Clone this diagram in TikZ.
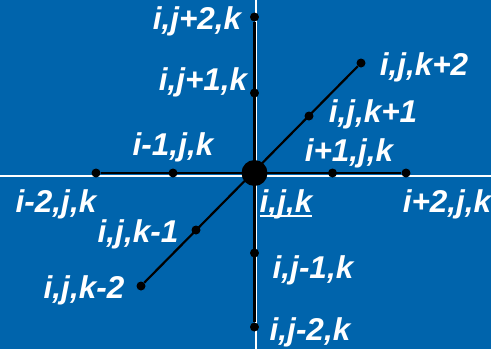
\documentclass[tikz,border=0pt]{standalone}
\usepackage{fontspec}
\setmainfont{Liberation Sans}
\definecolor{bg}{RGB}{0,100,172}
\begin{document}
\begin{tikzpicture}[x=1pt,y=-1pt,
  smalldot/.style={circle, fill=black, minimum size=9pt, inner sep=0pt},
  bigdot/.style={circle, fill=black, minimum size=26pt, inner sep=0pt},
  lab/.style={text=white, inner sep=0pt, anchor=base, font=\fontsize{31.5}{31.5}\selectfont\bfseries\itshape},
  axis/.style={white, line width=2pt},
  link/.style={black, line width=2.2pt}]
\fill[bg] (0,0) rectangle (491,349);
\useasboundingbox (0,0) rectangle (491,349);
% axes
\coordinate (axl) at (0,176);
\coordinate (axr) at (491,176);
\coordinate (axt) at (256,0);
\coordinate (axb) at (256,349);
\draw[axis] (axl) -- (axr);
\draw[axis] (axt) -- (axb);
% points
\node[bigdot] (c) at (254.5,173) {};
\node[smalldot] (im2) at (96,173) {};
\node[smalldot] (im1) at (173,173) {};
\node[smalldot] (ip1) at (332.5,173) {};
\node[smalldot] (ip2) at (406,173) {};
\node[smalldot] (jp2) at (254.5,17) {};
\node[smalldot] (jp1) at (254.5,93) {};
\node[smalldot] (jm1) at (254.5,253) {};
\node[smalldot] (jm2) at (254.5,327) {};
\node[smalldot] (kp2) at (361,63) {};
\node[smalldot] (kp1) at (309,116) {};
\node[smalldot] (km1) at (196,230) {};
\node[smalldot] (km2) at (141,286) {};
% links
\draw[link] (im2) -- (ip2);
\draw[link] (jp2) -- (jm2);
\draw[link] (km2) -- (kp2);
% labels
\node[lab] (ljp2) at (197,29) {i,j+2,k};
\node[lab] (ljp1) at (203,90) {i,j+1,k};
\node[lab] (lim1) at (173,155) {i-1,j,k};
\node[lab] (lip1) at (349,161) {i+1,j,k};
\node[lab] (lkp1) at (373,122) {i,j,k+1};
\node[lab] (lkp2) at (424,75) {i,j,k+2};
\node[lab] (lim2) at (56,212) {i-2,j,k};
\node[lab] (lc) at (286,212) {i,j,k};
\node[lab] (lip2) at (447,212) {i+2,j,k};
\node[lab] (lkm1) at (138,242) {i,j,k-1};
\node[lab] (lkm2) at (84,298) {i,j,k-2};
\node[lab] (ljm1) at (313,278) {i,j-1,k};
\node[lab] (ljm2) at (310,340) {i,j-2,k};
\draw[white, line width=2pt] ([yshift=-4pt]lc.base west) -- ([yshift=-4pt]lc.base east);
\end{tikzpicture}
\end{document}
